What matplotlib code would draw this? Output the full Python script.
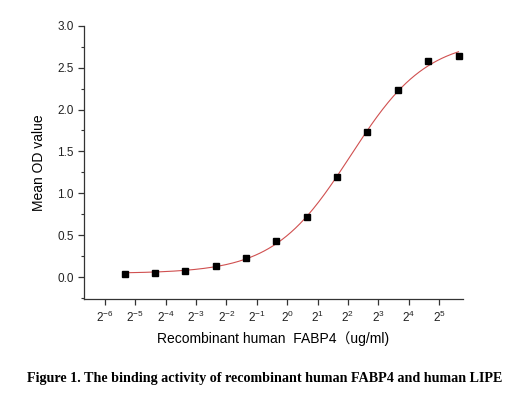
import numpy as np
import matplotlib
matplotlib.use("Agg")
import matplotlib.pyplot as plt
from matplotlib.ticker import FixedLocator, MultipleLocator

# concentrations (ug/ml), two-fold dilution from 50
conc = [50 / 2 ** k for k in range(11, -1, -1)]
od = [0.04, 0.055, 0.075, 0.13, 0.23, 0.43, 0.72, 1.19, 1.73, 2.23, 2.58, 2.64]
xtick_exp = [-6, -5, -4, -3, -2, -1, 0, 1, 2, 3, 4, 5]


def four_pl(x, p):
    a, b, c, d = p
    return d + (a - d) / (1 + (x / c) ** b)


def fit_4pl(x, y, p0, n_iter=200):
    # plain Gauss-Newton with damping, enough for this curve
    p = np.array(p0, float)
    lam = 1e-3
    for _ in range(n_iter):
        r = y - four_pl(x, p)
        J = np.empty((len(x), 4))
        for i in range(4):
            dp = np.zeros(4)
            dp[i] = 1e-6 * max(abs(p[i]), 1e-3)
            J[:, i] = (four_pl(x, p + dp) - four_pl(x, p)) / dp[i]
        A = J.T @ J
        step = np.linalg.solve(A + lam * np.diag(np.diag(A)), J.T @ r)
        p_new = p + step
        if np.sum((y - four_pl(x, p_new)) ** 2) < np.sum(r ** 2):
            p, lam = p_new, lam * 0.5
        else:
            lam *= 5
    return p


x = np.array(conc)
y = np.array(od)
p = fit_4pl(x, y, [0.04, 1.3, 5.0, 2.8])
xs = np.logspace(np.log10(x[0]), np.log10(x[-1]), 300)

fig = plt.figure(figsize=(5.3, 3.95), dpi=100)
ax = fig.add_axes([0.1585, 0.243, 0.715, 0.692])

ax.plot(xs, four_pl(xs, p), color="#d05050", lw=0.8)
ax.plot(x, y, "s", color="black", ms=4.3)

ax.set_xscale("log", base=2)
ax.set_xlim(2 ** -6.69, 2 ** 5.79)
ax.xaxis.set_major_locator(FixedLocator([2.0 ** e for e in xtick_exp]))
ax.xaxis.set_minor_locator(FixedLocator([]))
ax.set_xticklabels([r"$\mathregular{2^{%d}}$" % e for e in xtick_exp])

ax.set_ylim(-0.26, 3.0)
ax.yaxis.set_major_locator(MultipleLocator(0.5))
ax.yaxis.set_minor_locator(MultipleLocator(0.25))
ax.yaxis.set_major_formatter(matplotlib.ticker.FormatStrFormatter("%.1f"))

for s in ["top", "right"]:
    ax.spines[s].set_visible(False)
for s in ["left", "bottom"]:
    ax.spines[s].set_color("#333333")
    ax.spines[s].set_linewidth(0.9)
ax.tick_params(which="major", direction="out", length=4, width=0.9,
               labelsize=8.5, colors="#333333", labelcolor="#222222")
ax.tick_params(which="minor", direction="out", length=2.5, width=0.8, colors="#333333")
for lab in ax.get_xticklabels() + ax.get_yticklabels():
    lab.set_family("Liberation Sans")

ax.set_ylabel("Mean OD value", fontsize=10, family="Liberation Sans", labelpad=8)
ax.set_xlabel("Recombinant human  FABP4（ug/ml)", fontsize=10,
              family=["Liberation Sans", "Noto Sans CJK SC"], labelpad=5)

fig.text(0.5, 0.043, "Figure 1. The binding activity of recombinant human FABP4 and human LIPE",
         ha="center", va="center", fontsize=10.2, fontweight="bold", family="Liberation Serif")

fig.savefig("out.png", dpi=100)
